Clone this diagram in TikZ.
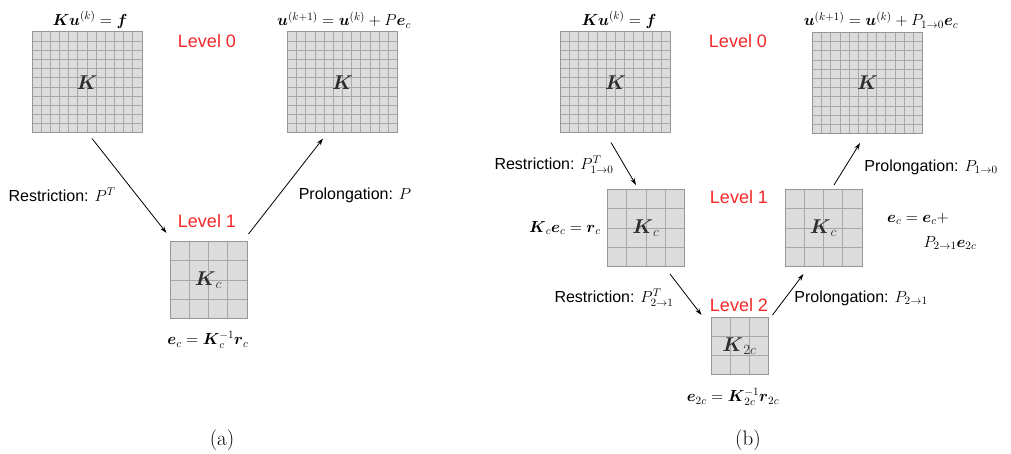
\RequirePackage{fix-cm}
\documentclass[tikz,border=0pt]{standalone}
\usepackage{amsmath}
\usepackage{amssymb}
\usepackage{fontspec}
\newfontfamily\helv{Liberation Sans}
\usetikzlibrary{arrows.meta, calc}

\definecolor{lvred}{RGB}{245,40,40}
\definecolor{matfill}{RGB}{220,220,220}
\definecolor{matline}{RGB}{168,168,168}
\definecolor{matedge}{RGB}{150,150,150}
\definecolor{matlabel}{RGB}{45,45,45}

\newcommand{\bv}[1]{\boldsymbol{#1}}

\begin{document}
\begin{tikzpicture}[
  x=1pt, y=-1pt,
  >={Stealth[length=7pt, width=4.5pt]},
  link/.style={->, line width=0.8pt},
  lbl/.style={font=\helv\fontsize{16}{19}\selectfont, inner sep=0pt},
  eq/.style={font=\fontsize{16}{19}\selectfont, inner sep=0pt},
  level/.style={font=\helv\fontsize{18}{21}\selectfont, text=lvred, inner sep=0pt},
  subcap/.style={font=\fontsize{21}{25}\selectfont, inner sep=0pt},
  mat/.style={draw=matedge, fill=matfill, line width=1pt, inner sep=0pt,
    text=matlabel, font=\fontsize{20}{24}\selectfont},
  cells/.style 2 args={path picture={
    \foreach \i in {1,...,#1}
      \draw[matline, line width=0.9pt]
        ($(path picture bounding box.north west)!\i/#1!(path picture bounding box.north east)$) --
        ($(path picture bounding box.south west)!\i/#1!(path picture bounding box.south east)$);
    \foreach \j in {1,...,#2}
      \draw[matline, line width=0.9pt]
        ($(path picture bounding box.north west)!\j/#2!(path picture bounding box.south west)$) --
        ($(path picture bounding box.north east)!\j/#2!(path picture bounding box.south east)$);
  }},
  fine/.style={mat, minimum width=110pt, minimum height=101pt, cells={12}{11}},
  coarse/.style={mat, minimum size=77pt, cells={4}{4}},
  coarsest/.style={mat, minimum size=57pt, cells={3}{3}}
]
\useasboundingbox (0,0) rectangle (1011,454);

% (a) two-level cycle
\node[fine] (fa0) at (87,82.5) {$\bv{K}$};
\node[fine] (fa1) at (342.5,82.5) {$\bv{K}$};
\node[coarse] (ca) at (208.5,280) {$\bv{K}_c$};

\node[eq] (eqa0) at (90,20) {$\bv{K}\bv{u}^{(k)} = \bv{f}$};
\node[eq] (eqa1) at (344,20) {$\bv{u}^{(k+1)} = \bv{u}^{(k)} + P\bv{e}_c$};
\node[level] (lva0) at (207,41) {Level 0};
\node[level] (lva1) at (207,221) {Level 1};
\node[lbl] (resa) at (62,195) {Restriction: $P^T$};
\node[lbl] (proa) at (355,195) {Prolongation: $P$};
\node[eq] (eqac) at (208,340) {$\bv{e}_c = \bv{K}_c^{-1}\bv{r}_c$};
\node[subcap] (capa) at (222,440) {(a)};

\draw[link] ([shift={(5,5)}]fa0.south) -- ([shift={(-3,-8)}]ca.north west);
\draw[link] ([shift={(1,-7)}]ca.north east) -- ([shift={(-19.5,5)}]fa1.south);

% (b) three-level cycle
\node[fine] (fb0) at (615.5,82.5) {$\bv{K}$};
\node[fine] (fb1) at (867.5,83) {$\bv{K}$};
\node[coarse] (cb0) at (646,228) {$\bv{K}_c$};
\node[coarse] (cb1) at (823.5,228) {$\bv{K}_c$};
\node[coarsest] (cc) at (739.5,346) {$\bv{K}_{2c}$};

\node[eq] (eqb0) at (619,20) {$\bv{K}\bv{u}^{(k)} = \bv{f}$};
\node[eq] (eqb1) at (881,20) {$\bv{u}^{(k+1)} = \bv{u}^{(k)} + P_{1\to0}\bv{e}_c$};
\node[level] (lvb0) at (738,41) {Level 0};
\node[level] (lvb1) at (739,197) {Level 1};
\node[level] (lvb2) at (739,305) {Level 2};
\node[lbl] (resb1) at (554,165) {Restriction: $P^T_{1\to0}$};
\node[lbl] (prob1) at (931,167) {Prolongation: $P_{1\to0}$};
\node[lbl] (resb2) at (614,298) {Restriction: $P^T_{2\to1}$};
\node[lbl] (prob2) at (861,298) {Prolongation: $P_{2\to1}$};
\node[eq] (eqbc) at (565,228) {$\bv{K}_c\bv{e}_c = \bv{r}_c$};
\node[eq] (eqbu) at (918,219) {$\bv{e}_c = \bv{e}_c +$};
\node[eq] (eqbp) at (950,243) {$P_{2\to1}\bv{e}_{2c}$};
\node[eq] (eqbcc) at (733,397) {$\bv{e}_{2c} = \bv{K}_{2c}^{-1}\bv{r}_{2c}$};
\node[subcap] (capb) at (748,440) {(b)};

\draw[link] ([shift={(-4.5,9)}]fb0.south) -- ([shift={(-10,-4)}]cb0.north);
\draw[link] ([shift={(-15,7)}]cb0.south east) -- ([shift={(-9,-2)}]cc.north west);
\draw[link] ([shift={(4,-2)}]cc.north east) -- ([shift={(19,7)}]cb1.south west);
\draw[link] ([shift={(10.5,-4)}]cb1.north) -- ([shift={(-7.5,9)}]fb1.south);
\end{tikzpicture}
\end{document}
